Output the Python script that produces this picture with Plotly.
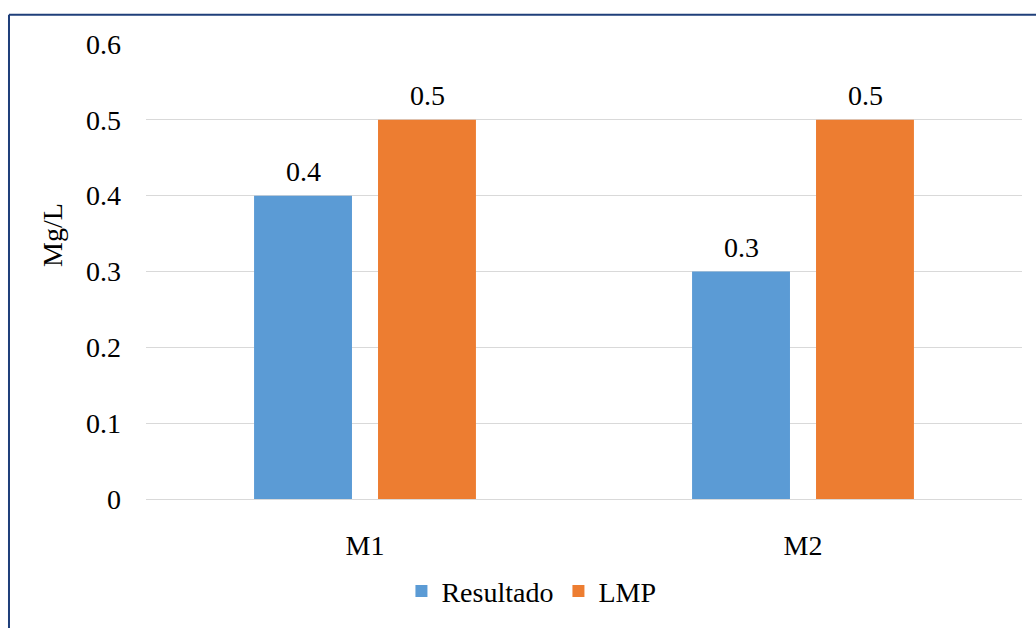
import plotly.graph_objects as go

categories = ["M1", "M2"]
resultado = [0.4, 0.3]
lmp = [0.5, 0.5]
y_ticks = [0, 0.1, 0.2, 0.3, 0.4, 0.5, 0.6]
y_tick_text = ["0", "0.1", "0.2", "0.3", "0.4", "0.5", "0.6"]

FONT = "'Times New Roman', 'Liberation Serif', serif"
FS = 28
BLUE = "#5B9BD5"
ORANGE = "#ED7D31"
GRID = "#D9D9D9"
FRAME = "#1F3F7A"

fig = go.Figure()
fig.add_trace(go.Bar(name="Resultado", x=categories, y=resultado,
                     marker=dict(color=BLUE, line=dict(width=0))))
fig.add_trace(go.Bar(name="LMP", x=categories, y=lmp,
                     marker=dict(color=ORANGE, line=dict(width=0))))

# value labels above each bar
for vals, shift in ((resultado, -62), (lmp, 62)):
    for cat, v in zip(categories, vals):
        fig.add_annotation(x=cat, y=v, xref="x", yref="y", text=f"{v:g}",
                           showarrow=False, xshift=shift, yanchor="bottom",
                           yshift=7, font=dict(family=FONT, size=FS, color="#000"))

# y-axis title, placed slightly above the vertical middle
fig.add_annotation(x=-0.1075, y=0.58, xref="paper", yref="paper", text="Mg/L",
                   showarrow=False, textangle=-90, xanchor="center", yanchor="middle",
                   font=dict(family=FONT, size=FS, color="#000"))

# frame lines on the left and top of the chart area
fig.add_shape(type="line", xref="paper", yref="paper",
              x0=-0.1564, x1=-0.1564, y0=1.0644, y1=-0.3,
              line=dict(color=FRAME, width=2))
fig.add_shape(type="line", xref="paper", yref="paper",
              x0=-0.1564, x1=1.03, y0=1.0644, y1=1.0644,
              line=dict(color=FRAME, width=2))

fig.update_layout(
    width=1036, height=628,
    margin=dict(l=146, r=14, t=44, b=126),
    paper_bgcolor="white", plot_bgcolor="white",
    barmode="group", bargap=0.434, bargroupgap=0.21,
    font=dict(family=FONT, size=FS, color="#000"),
    showlegend=True,
    legend=dict(orientation="h", x=0.44, xanchor="center", y=-0.203,
                yanchor="middle", font=dict(family=FONT, size=FS, color="#000"),
                itemwidth=30, traceorder="normal"),
    yaxis=dict(range=[0, 0.6], tickvals=y_ticks, ticktext=y_tick_text,
               showgrid=True, gridcolor=GRID, gridwidth=1, zeroline=False,
               showline=False, ticks="", ticklabelstandoff=24,
               tickfont=dict(family=FONT, size=FS, color="#000")),
    xaxis=dict(showline=True, linecolor=GRID, linewidth=1, ticks="",
               showgrid=False, ticklabelstandoff=21,
               tickfont=dict(family=FONT, size=FS, color="#000")),
)

fig.write_html("out.html")
